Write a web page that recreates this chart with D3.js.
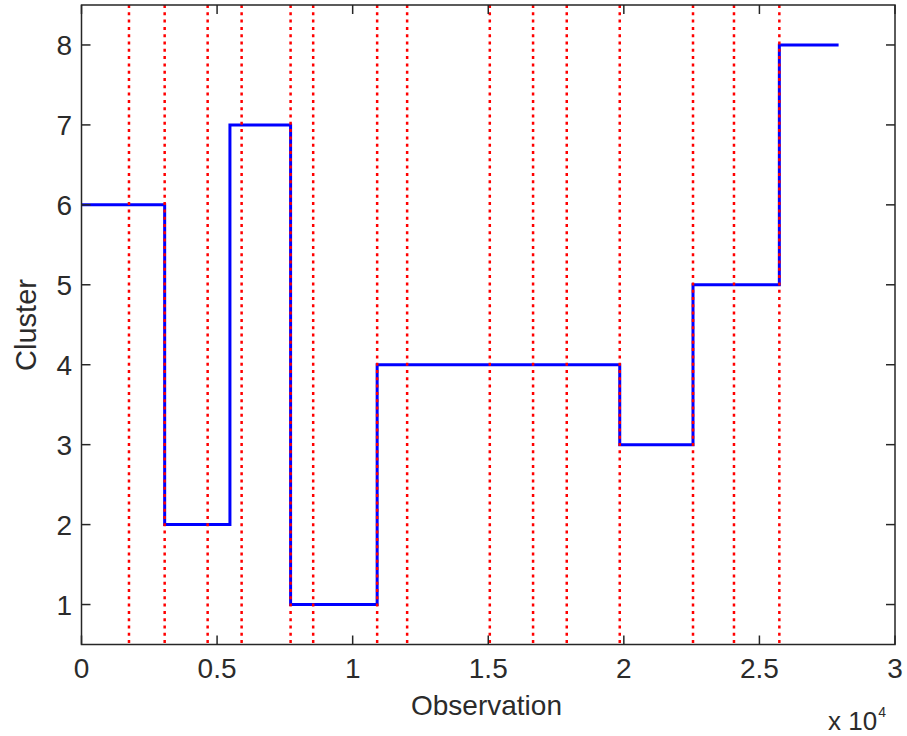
<!DOCTYPE html>
<html>
<head>
<meta charset="utf-8">
<script src="https://cdn.jsdelivr.net/npm/d3@7"></script>
<style>
  body { margin: 0; background: #fff; }
  text { font-family: "Liberation Sans", Arial, sans-serif; fill: #2b2b2b; }
</style>
</head>
<body>
<div id="chart"></div>
<script>
// cluster step data (observation index where each segment starts, cluster id)
let stepStarts = [0, 3067, 5474, 7711, 10903, 19849, 22551, 25735];
let stepClusters = [6, 2, 7, 1, 4, 3, 5, 8];
let stepEnd = 27920;

// red dotted change-point markers
let breakPoints = [1751, 3067, 4652, 5905, 7711, 8544, 10903, 12009,
    15057, 16653, 17895, 19849, 22551, 24062, 25735];

let xTicks = [0, 0.5, 1, 1.5, 2, 2.5, 3];
let yTicks = [1, 2, 3, 4, 5, 6, 7, 8];

const width = 907, height = 736;
const margin = {left: 81.5, right: 12, top: 5, bottom: 91.5};

const svg = d3.select("#chart").append("svg")
    .attr("width", width).attr("height", height);

const x = d3.scaleLinear().domain([0, 30000]).range([margin.left, width - margin.right]);
const y = d3.scaleLinear().domain([0.5, 8.5]).range([height - margin.bottom, margin.top]);

// build the step line points
let pts = [];
stepStarts.forEach((s, i) => {
    let e = i < stepStarts.length - 1 ? stepStarts[i + 1] : stepEnd;
    pts.push([s, stepClusters[i]]);
    pts.push([e, stepClusters[i]]);
});

svg.append("path")
    .datum(pts)
    .attr("fill", "none")
    .attr("stroke", "#0000ff")
    .attr("stroke-width", 3)
    .attr("d", d3.line().x(d => x(d[0])).y(d => y(d[1])));

svg.selectAll(".brk")
    .data(breakPoints)
    .enter().append("line")
    .attr("class", "brk")
    .attr("x1", d => x(d)).attr("x2", d => x(d))
    .attr("y1", y(8.5)).attr("y2", y(0.5))
    .attr("stroke", "#ff0000")
    .attr("stroke-width", 2.5)
    .attr("stroke-dasharray", "3,4.3");

// box
const axisColor = "#262626";
svg.append("rect")
    .attr("x", x(0)).attr("y", y(8.5))
    .attr("width", x(30000) - x(0)).attr("height", y(0.5) - y(8.5))
    .attr("fill", "none").attr("stroke", axisColor).attr("stroke-width", 1.5);

// inward ticks
const tl = 9;
xTicks.forEach(t => {
    let px = x(t * 10000);
    svg.append("line").attr("x1", px).attr("x2", px)
        .attr("y1", y(0.5)).attr("y2", y(0.5) - tl)
        .attr("stroke", axisColor).attr("stroke-width", 1.5);
    svg.append("line").attr("x1", px).attr("x2", px)
        .attr("y1", y(8.5)).attr("y2", y(8.5) + tl)
        .attr("stroke", axisColor).attr("stroke-width", 1.5);
    svg.append("text").attr("x", px).attr("y", 678)
        .attr("text-anchor", "middle").attr("font-size", 28).text(t);
});
yTicks.forEach(t => {
    let py = y(t);
    svg.append("line").attr("x1", x(0)).attr("x2", x(0) + tl)
        .attr("y1", py).attr("y2", py)
        .attr("stroke", axisColor).attr("stroke-width", 1.5);
    svg.append("line").attr("x1", x(30000)).attr("x2", x(30000) - tl)
        .attr("y1", py).attr("y2", py)
        .attr("stroke", axisColor).attr("stroke-width", 1.5);
    svg.append("text").attr("x", x(0) - 9.5).attr("y", py + 10.5)
        .attr("text-anchor", "end").attr("font-size", 28).text(t);
});

// labels
svg.append("text").attr("x", 486.5).attr("y", 715)
    .attr("text-anchor", "middle").attr("font-size", 28).text("Observation");
svg.append("text")
    .attr("transform", "translate(36,325) rotate(-90)")
    .attr("text-anchor", "middle").attr("font-size", 29).text("Cluster");
const exp = svg.append("text").attr("x", 828).attr("y", 730).attr("font-size", 26);
exp.append("tspan").text("x 10");
exp.append("tspan").attr("dx", 1).attr("dy", -13).attr("font-size", 14).text("4");
</script>
</body>
</html>
